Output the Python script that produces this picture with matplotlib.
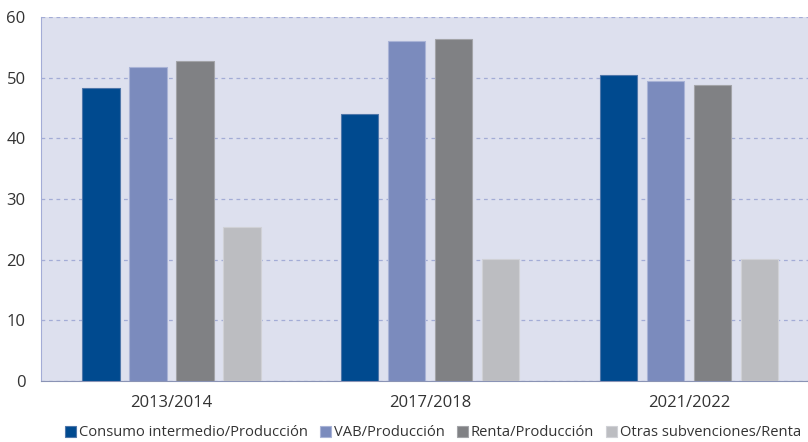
import numpy as np
import matplotlib
matplotlib.use("Agg")
import matplotlib.pyplot as plt

plt.rcParams["font.family"] = ["Open Sans", "DejaVu Sans"]

periods = ["2013/2014", "2017/2018", "2021/2022"]
series_names = [
    "Consumo intermedio/Producción",
    "VAB/Producción",
    "Renta/Producción",
    "Otras subvenciones/Renta",
]
consumo = [48.3, 44.0, 50.4]
vab = [51.8, 56.0, 49.4]
renta = [52.8, 56.3, 48.8]
otras = [25.4, 20.1, 20.1]
yticks = [0, 10, 20, 30, 40, 50, 60]

colors = ["#004a8f", "#7b8bbd", "#808184", "#bcbdc1"]
edges = ["#4f77aa", "#a9b3d6", "#a3a4a8", "#d0d1d6"]

fig = plt.figure(figsize=(8.08, 4.42), dpi=100)
ax = fig.add_axes([41 / 808, 61 / 442, 1 - 41 / 808, 364 / 442])
ax.set_facecolor("#dde0ee")

x = np.arange(len(periods))
width = 0.143
step = 0.1815
for i, (name, vals) in enumerate(zip(series_names, [consumo, vab, renta, otras])):
    ax.bar(x + (i - 1.5) * step, vals, width, color=colors[i],
           edgecolor=edges[i], linewidth=0.8, label=name, zorder=3)

ax.set_xlim(-0.504, 2.458)
ax.set_ylim(0, 60)
ax.set_yticks(yticks)
ax.yaxis.grid(True, linestyle=(0, (3, 3)), color="#a3acd6", linewidth=0.9, zorder=1)
ax.set_xticks(x)
ax.set_xticklabels(periods)
ax.tick_params(axis="both", length=0, labelsize=12, colors="#333333")
ax.tick_params(axis="x", pad=10)
ax.tick_params(axis="y", pad=11)
for s in ["top", "right"]:
    ax.spines[s].set_visible(False)
ax.spines["left"].set_color("#a3acd6")
ax.spines["bottom"].set_color("#8a93b5")

handles, labels = ax.get_legend_handles_labels()
fig.legend(handles, labels, loc="center", bbox_to_anchor=(433 / 808, 9 / 442), ncol=4,
           frameon=False, fontsize=10.6, handlelength=0.75, handleheight=0.75,
           handletextpad=0.2, columnspacing=0.8, labelcolor="#333333",
           borderpad=0, borderaxespad=0)

fig.savefig("out.png", dpi=100)
